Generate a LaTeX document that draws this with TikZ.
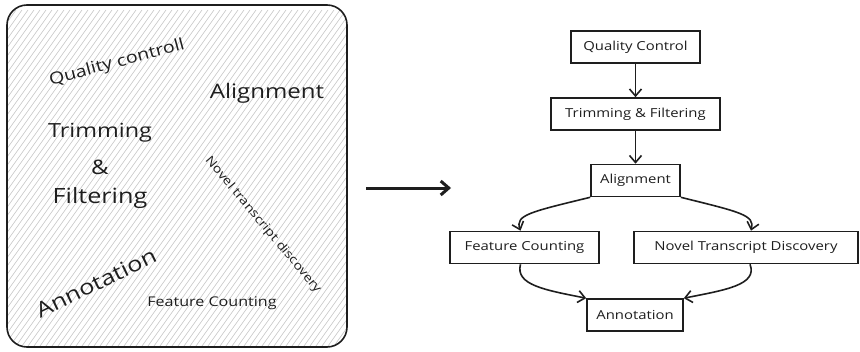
\documentclass[tikz,border=0pt]{standalone}
\usepackage{fontspec}
\setmainfont{Open Sans}[FakeStretch=1.2]
\usetikzlibrary{arrows.meta}
\definecolor{ink}{HTML}{1E1E1E}
\tikzset{
  box/.style={draw=ink, line width=1.6pt, minimum height=32pt, inner sep=0pt, font=\fontsize{12.4}{14}\selectfont, text=ink},
  flow/.style={draw=ink, line width=1.6pt, -{Straight Barb[length=7pt,width=12pt,line width=1.6pt]}},
  free/.style={text=ink, inner sep=0pt},
}
\begin{document}
\begin{tikzpicture}[x=1pt,y=-1pt]
\useasboundingbox (0,0) rectangle (860,351);
% left panel
\begin{scope}
\clip[rounded corners=20pt] (7,5) rectangle (347,347);
\foreach \c in {-300,-294,...,600} {
  \draw[black!22, line width=0.6pt] (\c,360) -- ++(250,-350);
}
\end{scope}
\draw[ink, line width=1.6pt, rounded corners=20pt] (7,5) rectangle (347,347);
\node[free, rotate=15, font=\fontsize{16.3}{18}\selectfont] (lqc) at (117,63) {Quality controll};
\node[free, font=\fontsize{20}{22}\selectfont] (lal) at (267,93) {Alignment};
\node[free, font=\fontsize{19.5}{22}\selectfont] (ltr) at (100,133) {Trimming};
\node[free, font=\fontsize{20}{22}\selectfont] (lamp) at (100,167) {\&};
\node[free, font=\fontsize{21}{22}\selectfont] (lfi) at (100,198) {Filtering};
\node[free, rotate=-50, font=\fontsize{12}{14}\selectfont] (lnt) at (263,225) {Novel transcript discovery};
\node[free, rotate=26, font=\fontsize{21}{22}\selectfont] (lan) at (96,283) {Annotation};
\node[free, font=\fontsize{13.4}{15}\selectfont] (lfc) at (212,303) {Feature Counting};
% big arrow
\coordinate (bs) at (366,188);
\coordinate (be) at (451,188);
\draw[ink, line width=3pt, -{Straight Barb[length=8pt,width=14pt,line width=3pt]}] (bs) -- (be);
% right flow
\node[box, minimum width=129pt] (qc) at (635.5,47) {Quality Control};
\node[box, minimum width=169pt] (tf) at (635.5,114) {Trimming \& Filtering};
\node[box, minimum width=89pt] (al) at (635.5,180.5) {Alignment};
\node[box, minimum width=149pt] (fc) at (524.5,247.5) {Feature Counting};
\node[box, minimum width=224pt] (nt) at (746,247.5) {Novel Transcript Discovery};
\node[box, minimum width=96pt] (an) at (635,315) {Annotation};
\draw[flow] (qc.south) -- (tf.north);
\draw[flow] (tf.south) -- (al.north);
\draw[flow] (al.south west) .. controls (530,212) and (515,215) .. ([xshift=-4pt]fc.north);
\draw[flow] (al.south east) .. controls (740,212) and (755,215) .. ([xshift=5pt]nt.north);
\draw[flow] ([xshift=-4pt]fc.south) .. controls (515,285) and (545,290) .. (an.north west);
\draw[flow] ([xshift=4pt]nt.south) .. controls (758,285) and (725,290) .. (an.north east);
\end{tikzpicture}
\end{document}
